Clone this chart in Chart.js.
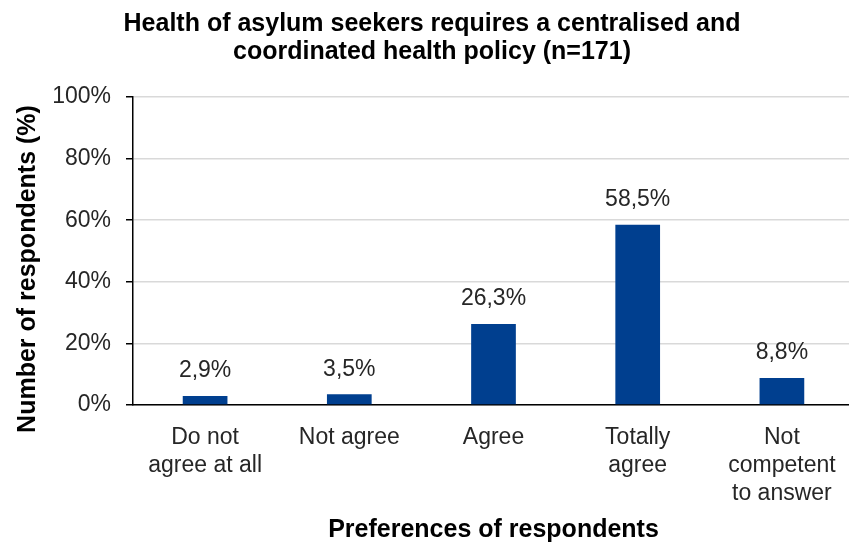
<!DOCTYPE html>
<html>
<head>
<meta charset="utf-8">
<script src="https://cdn.jsdelivr.net/npm/chart.js@4/dist/chart.umd.min.js"></script>
<style>
  html, body { margin: 0; padding: 0; background: #fff; overflow: hidden; }
  #wrap { width: 860px; height: 543px; }
</style>
</head>
<body>
<div id="wrap"><canvas id="healthChart" width="860" height="543"></canvas></div>
<script>
const categories = [
  ['Do not', 'agree at all'],
  ['Not agree'],
  ['Agree'],
  ['Totally', 'agree'],
  ['Not', 'competent', 'to answer']
];
const values = [2.9, 3.5, 26.3, 58.5, 8.8];
const valueLabels = ['2,9%', '3,5%', '26,3%', '58,5%', '8,8%'];
const yTicks = [0, 20, 40, 60, 80, 100];
const yTitle = 'Number of respondents (%)';

const FONT = "'Liberation Sans', Arial, sans-serif";

// draws the value above each bar, plus the y axis title (sits a bit below centre in the original)
const barLabels = {
  id: 'barLabels',
  afterDatasetsDraw(chart) {
    const ctx = chart.ctx;
    const meta = chart.getDatasetMeta(0);
    ctx.save();
    ctx.font = '23px ' + FONT;
    ctx.fillStyle = '#262626';
    ctx.textAlign = 'center';
    ctx.textBaseline = 'middle';
    meta.data.forEach(function (bar, i) {
      ctx.fillText(valueLabels[i], bar.x, bar.y - 25);
    });
    ctx.restore();

    const area = chart.chartArea;
    ctx.save();
    ctx.translate(28, (area.top + area.bottom) / 2 + 18);
    ctx.rotate(-Math.PI / 2);
    ctx.font = 'bold 25px ' + FONT;
    ctx.fillStyle = '#000';
    ctx.textAlign = 'center';
    ctx.textBaseline = 'middle';
    ctx.fillText(yTitle, 0, 0);
    ctx.restore();
  }
};

const ctx = document.getElementById('healthChart').getContext('2d');
const healthChart = new Chart(ctx, {
  type: 'bar',
  data: {
    labels: categories,
    datasets: [{
      data: values,
      backgroundColor: '#003f8f',
      borderWidth: 0,
      categoryPercentage: 1,
      barPercentage: 0.31
    }]
  },
  plugins: [barLabels],
  options: {
    responsive: false,
    animation: false,
    layout: { padding: { left: 10, right: 6, top: 0, bottom: 0 } },
    plugins: {
      legend: { display: false },
      tooltip: { enabled: false },
      title: {
        display: true,
        text: ['Health of asylum seekers requires a centralised and', 'coordinated health policy (n=171)'],
        color: '#000',
        font: { family: FONT, size: 25, weight: 'bold', lineHeight: 1.12 },
        padding: { top: 10, bottom: 31 }
      }
    },
    scales: {
      y: {
        min: 0,
        max: 100,
        afterBuildTicks(scale) {
          scale.ticks = yTicks.map(v => ({ value: v }));
        },
        afterFit(scale) { scale.width = 123; },
        ticks: {
          color: '#262626',
          font: { family: FONT, size: 23 },
          padding: 15,
          callback: v => v + '%'
        },
        grid: { color: '#d9d9d9', lineWidth: 1.5, tickColor: '#000', tickLength: 7 },
        border: { color: '#000', width: 1.5 },
        title: { display: false }
      },
      x: {
        afterFit(scale) { scale.height = 138; },
        ticks: {
          color: '#262626',
          font: { family: FONT, size: 23, lineHeight: 1.22 },
          padding: 19,
          maxRotation: 0,
          autoSkip: false
        },
        grid: { display: false, drawTicks: false },
        border: { color: '#000', width: 1.5 },
        title: {
          display: true,
          text: 'Preferences of respondents',
          color: '#000',
          font: { family: FONT, size: 25, weight: 'bold', lineHeight: 1.0 },
          padding: { top: 0, bottom: 0 }
        }
      }
    }
  }
});
</script>
</body>
</html>
